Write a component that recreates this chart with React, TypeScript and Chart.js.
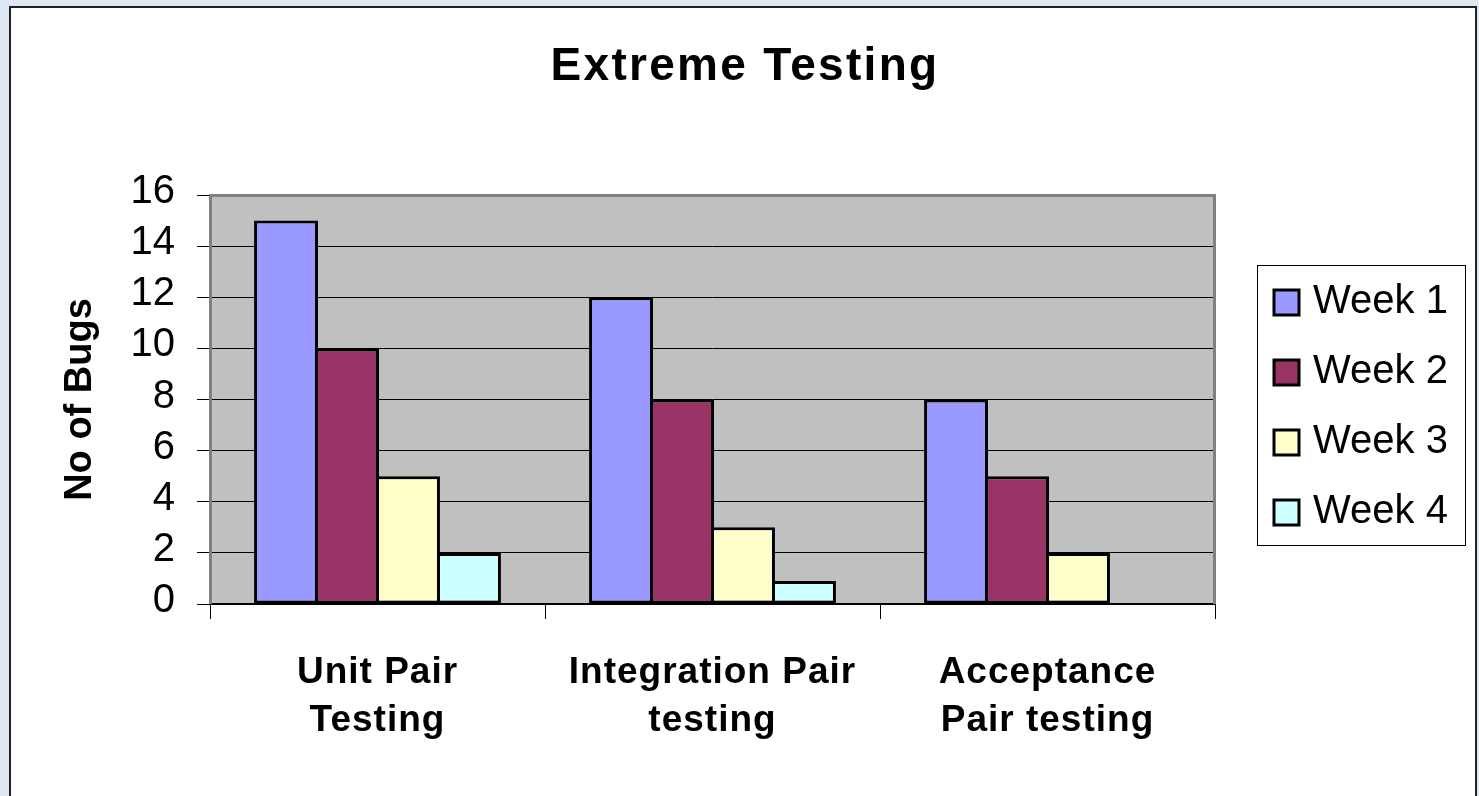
import React, { useEffect, useRef } from "react";
import { Chart, registerables } from "chart.js";

Chart.register(...registerables);

// ---- data ----
const categories: string[][] = [
  ["Unit Pair", "Testing"],
  ["Integration Pair", "testing"],
  ["Acceptance", "Pair testing"],
];
const seriesNames = ["Week 1", "Week 2", "Week 3", "Week 4"];
const week1 = [15, 12, 8];
const week2 = [10, 8, 5];
const week3 = [5, 3, 2];
const week4 = [2, 0.9, 0];
const seriesColors = ["#9999ff", "#993366", "#ffffcc", "#ccffff"];
const yMin = 0;
const yMax = 16;
const yStep = 2;
const chartTitle = "Extreme Testing";
const yAxisTitle = "No of Bugs";

const FONT = "'Liberation Sans', Arial, sans-serif";
const W = 1479;
const H = 796;

const decor = {
  id: "decor",
  beforeDraw(chart: any) {
    const { ctx, chartArea: a } = chart;
    ctx.save();
    ctx.fillStyle = "#c0c0c0";
    ctx.fillRect(a.left, a.top, a.right - a.left, a.bottom - a.top);
    ctx.restore();
  },
  beforeDatasetsDraw(chart: any) {
    const { ctx, chartArea: a } = chart;
    ctx.save();
    ctx.strokeStyle = "#808080";
    ctx.lineWidth = 3;
    ctx.beginPath();
    ctx.moveTo(a.left + 0.5, a.bottom);
    ctx.lineTo(a.left + 0.5, a.top + 0.5);
    ctx.lineTo(a.right - 0.5, a.top + 0.5);
    ctx.lineTo(a.right - 0.5, a.bottom);
    ctx.stroke();
    ctx.restore();
  },
  afterDatasetsDraw(chart: any) {
    chart.ctx.letterSpacing = "1px";
  },
  afterDraw(chart: any) {
    const ctx = chart.ctx;
    ctx.letterSpacing = "0px";
    // title
    ctx.save();
    ctx.letterSpacing = "2.3px";
    ctx.font = `bold 46px ${FONT}`;
    ctx.fillStyle = "#000";
    ctx.textAlign = "center";
    ctx.textBaseline = "alphabetic";
    ctx.fillText(chartTitle, 745, 80);
    ctx.restore();
    // legend
    ctx.save();
    ctx.letterSpacing = "0px";
    ctx.fillStyle = "#fff";
    ctx.fillRect(1257.5, 265.5, 208, 280);
    ctx.strokeStyle = "#000";
    ctx.lineWidth = 1;
    ctx.strokeRect(1257.5, 265.5, 208, 280);
    chart.data.datasets.forEach((ds: any, i: number) => {
      const cy = 302 + i * 70;
      ctx.fillStyle = ds.backgroundColor;
      ctx.fillRect(1274, cy - 12, 25, 25);
      ctx.strokeStyle = "#000";
      ctx.lineWidth = 3;
      ctx.strokeRect(1274, cy - 12, 25, 25);
      ctx.fillStyle = "#000";
      ctx.font = `40px ${FONT}`;
      ctx.textAlign = "left";
      ctx.textBaseline = "alphabetic";
      ctx.fillText(ds.label, 1313, cy + 11);
    });
    ctx.restore();
  },
};

export default function App() {
  const ref = useRef<HTMLCanvasElement | null>(null);

  useEffect(() => {
    if (!ref.current) return;
    const series = [week1, week2, week3, week4];
    const chart = new Chart(ref.current, {
      type: "bar",
      data: {
        labels: categories,
        datasets: series.map((d, i) => ({
          label: seriesNames[i],
          data: d,
          backgroundColor: seriesColors[i],
          borderColor: "#000",
          borderWidth: (c: any) => (c.raw ? 3 : 0),
          borderSkipped: false,
          categoryPercentage: 0.728,
          barPercentage: 1.049,
        })),
      },
      plugins: [decor],
      options: {
        responsive: false,
        animation: false,
        devicePixelRatio: 1,
        layout: { padding: { left: 0, top: 195, right: W - 1215, bottom: 0 } },
        plugins: {
          legend: { display: false },
          title: { display: false },
          tooltip: { enabled: false },
        },
        scales: {
          x: {
            afterFit: (s: any) => {
              s.height = H - 604;
            },
            grid: {
              offset: true,
              drawOnChartArea: false,
              drawTicks: true,
              tickLength: 15,
              color: "#000",
              lineWidth: 1,
            },
            border: { display: true, color: "#000", width: 2 },
            ticks: {
              z: 1,
              color: "#000",
              padding: 29,
              maxRotation: 0,
              autoSkip: false,
              font: { family: FONT, size: 37, weight: "bold", lineHeight: 1.32 },
            },
          },
          y: {
            min: yMin,
            max: yMax,
            afterFit: (s: any) => {
              s.width = 210;
            },
            grid: {
              color: "#000",
              lineWidth: 1,
              drawTicks: true,
              tickLength: 13,
            },
            border: { display: false },
            ticks: {
              stepSize: yStep,
              color: "#000",
              padding: 22,
              labelOffset: -3,
              font: { family: FONT, size: 40 },
            },
            title: {
              display: true,
              text: yAxisTitle,
              color: "#000",
              padding: { top: 58, bottom: 0 },
              font: { family: FONT, size: 38, weight: "bold", lineHeight: 1.2 },
            },
          },
        },
      } as any,
    });
    return () => chart.destroy();
  }, []);

  return (
    <div
      style={{
        position: "fixed",
        left: 0,
        top: 0,
        width: W,
        height: H,
        background: "#dfe8f4",
        overflow: "hidden",
      }}
    >
      <div
        style={{
          position: "absolute",
          left: 9,
          top: 6,
          width: 1464,
          height: 820,
          border: "2px solid #222",
          background: "#fff",
        }}
      />
      <canvas
        ref={ref}
        width={W}
        height={H}
        style={{ position: "absolute", left: 0, top: 0, width: W, height: H }}
      />
    </div>
  );
}
